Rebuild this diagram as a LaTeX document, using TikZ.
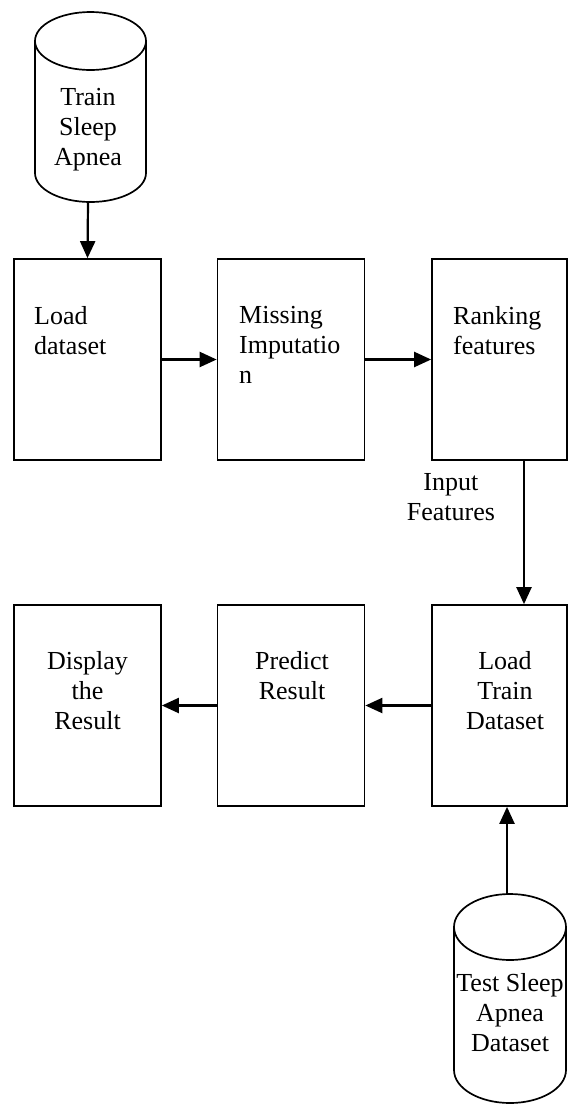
\documentclass[tikz,border=0pt]{standalone}
\usepackage{fontspec}
\setmainfont{Liberation Serif}
\usetikzlibrary{positioning,calc,arrows.meta}

\begin{document}
\begin{tikzpicture}[
    x=1pt, y=-1pt,
    box/.style={draw, line width=1.7pt, minimum width=147pt, minimum height=201pt, inner sep=0pt},
    wbox/.style={box, minimum width=135pt},
    txt/.style={inner sep=0pt, font=\fontsize{26pt}{30pt}\selectfont},
    ltxt/.style={txt, anchor=north west, align=left},
    ctxt/.style={txt, anchor=north, align=center},
    cyl/.style={line width=1.7pt},
    edge/.style={-{Triangle[length=17pt,width=15pt]}, line width=2.2pt}
]
    \useasboundingbox (0,0) rectangle (568,1104);

    % Databases
    \draw[cyl] (90.5,41) ellipse [x radius=55.5pt, y radius=29pt];
    \draw[cyl] (35,41) -- (35,173) arc[start angle=180, end angle=360, x radius=55.5pt, y radius=29pt] -- (146,41);
    \node[ctxt] (trainDB) at (88,88) {Train\\Sleep\\Apnea};
    \coordinate (trainDBbot) at (88,202);

    \draw[cyl] (510,927) ellipse [x radius=56pt, y radius=33pt];
    \draw[cyl] (454,927) -- (454,1070) arc[start angle=180, end angle=360, x radius=56pt, y radius=33pt] -- (566,927);
    \node[ctxt] (testDB) at (510,973) {Test Sleep\\Apnea\\Dataset};
    \coordinate (testDBtop) at (507,894);

    % Upper row
    \node[box] (loadData) at (87.5,359.5) {};
    \node[box] (missing) at (291,359.5) {};
    \node[wbox] (ranking) at (499.5,359.5) {};
    \node[ltxt] (loadDataTxt) at (34,306) {Load\\dataset};
    \node[ltxt] (missingTxt) at (239,306) {Missing\\Imputatio\\n};
    \node[ltxt] (rankingTxt) at (453,306) {Ranking\\features};

    % Lower row
    \node[box] (display) at (87.5,705.5) {};
    \node[box] (predict) at (291,705.5) {};
    \node[wbox] (loadTrain) at (499.5,705.5) {};
    \node[ctxt] (displayTxt) at (87.5,651) {Display\\the\\Result};
    \node[ctxt] (predictTxt) at (292,651) {Predict\\Result};
    \node[ctxt] (loadTrainTxt) at (505,651) {Load\\Train\\Dataset};

    % Arrows
    \draw[edge] (trainDBbot) -- (loadData.north);
    \draw[edge] (loadData) -- (missing);
    \draw[edge] (missing) -- (ranking);
    \draw[edge] ([xshift=24.5pt]ranking.south) -- ([xshift=24.5pt]loadTrain.north)
        node[ctxt, pos=0.25, left=28pt] (inputTxt) {Input\\Features};
    \draw[edge] (loadTrain) -- (predict);
    \draw[edge] (predict) -- (display);
    \draw[edge] (testDBtop) -- (testDBtop |- loadTrain.south);
\end{tikzpicture}
\end{document}
